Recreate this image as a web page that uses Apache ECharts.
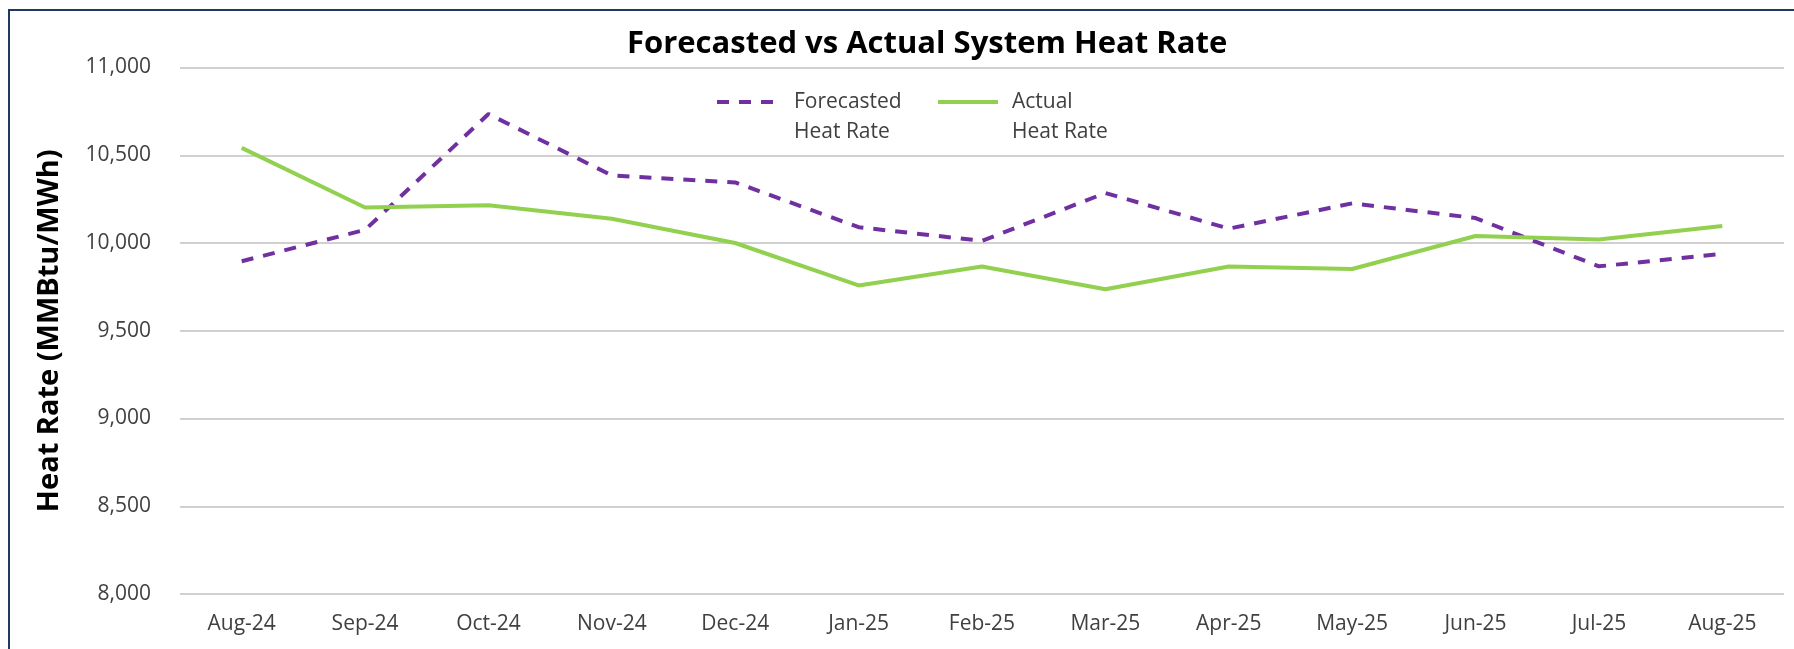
<!DOCTYPE html>
<html>
<head>
<meta charset="utf-8">
<script src="https://cdn.jsdelivr.net/npm/echarts@6/dist/echarts.min.js"></script>
<style>
html,body{margin:0;padding:0;background:#fff;}
#chart{width:1794px;height:649px;}
</style>
</head>
<body>
<div id="chart"></div>
<script>
const categories = ['Aug-24','Sep-24','Oct-24','Nov-24','Dec-24','Jan-25','Feb-25','Mar-25','Apr-25','May-25','Jun-25','Jul-25','Aug-25'];
const forecasted = [9896, 10075, 10735, 10385, 10345, 10090, 10012, 10285, 10082, 10226, 10142, 9867, 9938];
const actual = [10542, 10202, 10215, 10138, 10000, 9758, 9866, 9736, 9866, 9852, 10040, 10020, 10097];
const yMin = 8000, yMax = 11000, yStep = 500;

const FONT = 'Open Sans';
const legendText = {fontFamily: FONT, fontSize: 21, lineHeight: 30, color: '#404040', padding: [0, 0, 0, 9]};
const chart = echarts.init(document.getElementById('chart'), null, {renderer: 'canvas'});
chart.setOption({
  animation: false,
  backgroundColor: '#ffffff',
  textStyle: {fontFamily: FONT},
  title: {
    text: 'Forecasted vs Actual System Heat Rate',
    left: 622,
    top: 24,
    textStyle: {fontFamily: FONT, fontWeight: 'bold', fontSize: 31, color: '#000000'}
  },
  legend: [
    {
      data: ['Forecasted Heat Rate'],
      left: 710, top: 52,
      itemWidth: 63, itemHeight: 14,
      itemStyle: {opacity: 0},
      lineStyle: {width: 4},
      formatter: () => ' \nForecasted\nHeat Rate',
      textStyle: legendText
    },
    {
      data: ['Actual Heat Rate'],
      left: 931, top: 52,
      itemWidth: 60, itemHeight: 14,
      itemStyle: {opacity: 0},
      lineStyle: {width: 4},
      formatter: () => ' \nActual\nHeat Rate',
      textStyle: legendText
    }
  ],
  grid: {left: 180, right: 10, top: 67.5, bottom: 55},
  xAxis: {
    type: 'category',
    data: categories,
    boundaryGap: true,
    axisLine: {show: false},
    axisTick: {show: false},
    axisLabel: {fontFamily: FONT, fontSize: 21, color: '#404040', margin: 20}
  },
  yAxis: {
    type: 'value',
    min: yMin, max: yMax, interval: yStep,
    name: 'Heat Rate (MMBtu/MWh)',
    nameLocation: 'middle',
    nameRotate: 90,
    nameGap: 116,
    nameTextStyle: {fontFamily: FONT, fontWeight: 'bold', fontSize: 29, color: '#000000'},
    axisLine: {show: false},
    axisTick: {show: false},
    axisLabel: {
      fontFamily: FONT, fontSize: 21, color: '#404040', margin: 29,
      formatter: v => v.toLocaleString('en-US')
    },
    splitLine: {lineStyle: {color: '#D0D0D0', width: 2}}
  },
  series: [
    {
      name: 'Forecasted Heat Rate',
      type: 'line',
      data: forecasted,
      symbol: 'none',
      lineStyle: {color: '#7030A0', width: 4, type: [12, 10]},
      itemStyle: {color: '#7030A0'}
    },
    {
      name: 'Actual Heat Rate',
      type: 'line',
      data: actual,
      symbol: 'none',
      lineStyle: {color: '#92D050', width: 4},
      itemStyle: {color: '#92D050'}
    }
  ],
  graphic: [
    {
      type: 'rect',
      silent: true,
      shape: {x: 9, y: 10, width: 1800, height: 700},
      style: {fill: 'none', stroke: '#1F3864', lineWidth: 2}
    }
  ]
});
</script>
</body>
</html>
